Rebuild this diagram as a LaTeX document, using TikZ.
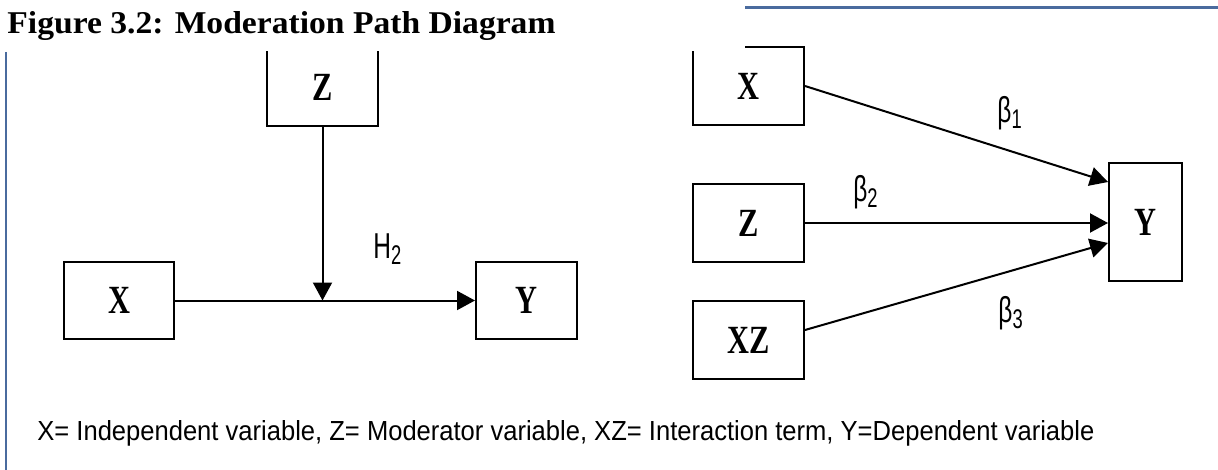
\documentclass[tikz,border=0pt]{standalone}
\usepackage{fontspec}
\setmainfont{Liberation Serif}
\setsansfont{Liberation Sans}
\usepackage{graphicx}
\usetikzlibrary{arrows.meta}
\definecolor{rule-blue}{HTML}{4A6B9E}
\newcommand{\boxlbl}[1]{\scalebox{0.76}[1]{#1}}
\newcommand{\coef}[2]{\scalebox{0.68}[1]{#1\raisebox{-3pt}{\fontsize{13.5pt}{13.5pt}\selectfont #2}}}

\begin{document}
\begin{tikzpicture}[x=0.5pt, y=-0.5pt,
    var/.style={draw, line width=1pt, inner sep=0pt, minimum width=55.5pt, minimum height=39pt,
      font=\fontsize{20pt}{20pt}\selectfont\bfseries},
    coef/.style={font=\sffamily\fontsize{18pt}{18pt}\selectfont, inner sep=0pt, anchor=base west},
    effect/.style={line width=1pt, -{Triangle[length=9pt, width=9.5pt]}}]
  \useasboundingbox (0,0) rectangle (1218,470);
  % left: moderation model
  \node[var] (zl) at (322.5,87) {\boxlbl{Z}};
  \node[var, minimum width=55pt, minimum height=38.5pt] (xl) at (119,300.5) {\boxlbl{X}};
  \node[var, minimum width=50.5pt, minimum height=38.5pt] (yl) at (526.5,300.5) {\boxlbl{Y}};
  \draw[effect] (xl) -- (yl);
  \draw[effect] (zl) -- (zl |- xl.east);
  \node[coef] (h2) at (373,258) {\coef{H}{2}};
  % right: regression form
  \node[var] (xr) at (748.5,86) {\boxlbl{X}};
  \node[var] (zr) at (748.5,223) {\boxlbl{Z}};
  \node[var] (xzr) at (748.5,340) {\boxlbl{XZ}};
  \node[var, minimum width=36.5pt, minimum height=59pt] (yr) at (1145.5,222) {\boxlbl{Y}};
  \draw[effect] (xr.east) -- ([yshift=20pt]yr.west);
  \draw[effect] (zr.east) -- (zr.east -| yr.west);
  \draw[effect] ([yshift=5pt]xzr.east) -- ([yshift=-10.5pt]yr.west);
  \node[coef] (b1) at (997,123) {\coef{β}{1}};
  \node[coef] (b2) at (853,201) {\coef{β}{2}};
  \node[coef] (b3) at (998,322) {\coef{β}{3}};
  % page frame and heading
  \fill[white] (0,0) rectangle (745,51.5);
  \draw[rule-blue, line width=1pt] (5.5,52) -- (5.5,470);
  \draw[rule-blue, line width=1.5pt] (745,8) -- (1218,8);
  \node[anchor=base west, inner sep=0pt] (title) at (7,34)
    {\resizebox{274pt}{11pt}{\bfseries Figure 3.2: Moderation Path Diagram}};
  \node[anchor=base west, inner sep=0pt] (legend) at (37,440)
    {\resizebox{528.5pt}{10pt}{\sffamily X= Independent variable, Z= Moderator variable, XZ= Interaction term, Y=Dependent variable}};
\end{tikzpicture}
\end{document}
